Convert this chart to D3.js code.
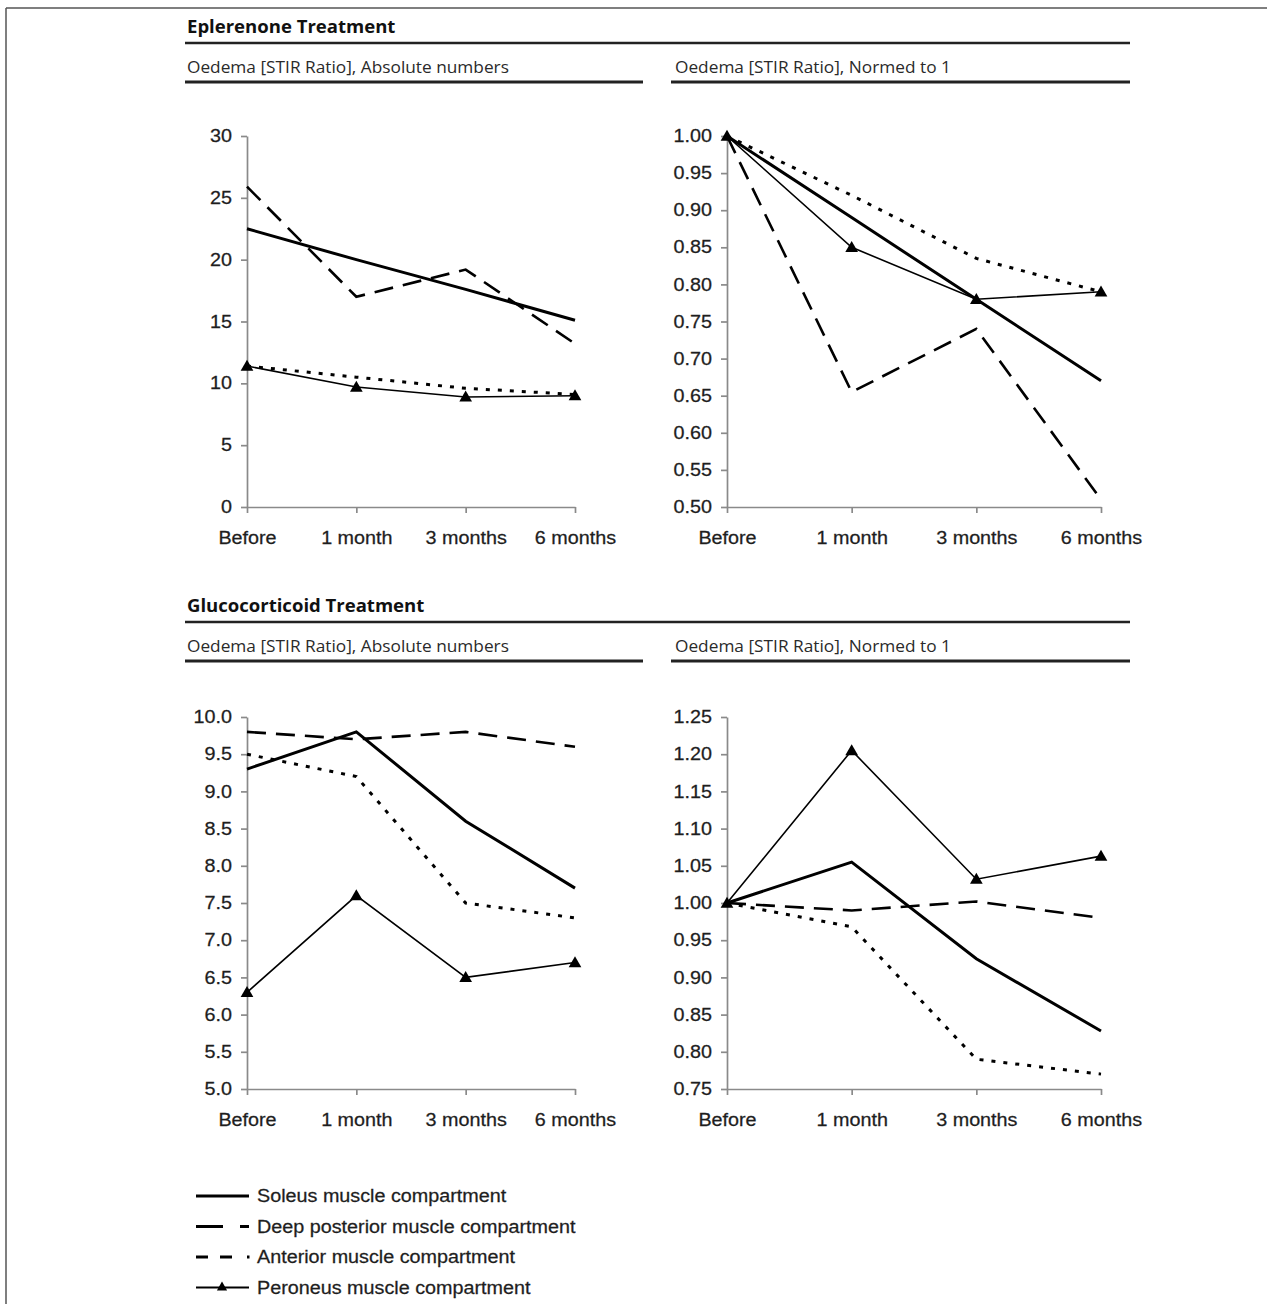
<!DOCTYPE html>
<meta charset="utf-8">
<style>
  body { margin: 0; background: #fff; }
  .axis path, .axis line { stroke: #8a8a8a; stroke-width: 1.7; }
  .axis text { font-family: "Liberation Sans", Arial, sans-serif; font-size: 17.5px; fill: #1e1e1e;
               stroke: #1e1e1e; stroke-width: 0.25;
               transform-box: fill-box; transform-origin: center; transform: scaleX(1.13); }
  .yaxis text { transform-origin: right center; }
  .legend text { font-family: "Liberation Sans", Arial, sans-serif; font-size: 17.5px; fill: #1e1e1e;
                 stroke: #1e1e1e; stroke-width: 0.25;
                 transform-box: fill-box; transform-origin: left center; transform: scaleX(1.13); }
  .title { font-family: "Open Sans", sans-serif; font-weight: 700; font-size: 17.5px; fill: #111;
           transform-box: fill-box; transform-origin: left center; transform: scaleX(1.06); }
  .subtitle { font-family: "Open Sans", sans-serif; font-size: 16px; fill: #2a2a2a;
              transform-box: fill-box; transform-origin: left center; transform: scaleX(1.08); }
</style>
<body>
  <svg width="1267" height="1304"></svg>
</body>
<script src="https://cdnjs.cloudflare.com/ajax/libs/d3/7.8.5/d3.min.js"></script>
<script>

    // time points on the x axis
    var timepoints = ["Before", "1 month", "3 months", "6 months"];

    // series order: soleus, deep posterior, anterior, peroneus
    var seriesNames = [
        "Soleus muscle compartment",
        "Deep posterior muscle compartment",
        "Anterior muscle compartment",
        "Peroneus muscle compartment"
    ];

    var eplerenoneAbsolute = [
        [22.5, 20.0, 17.6, 15.1],
        [25.9, 17.0, 19.2, 13.2],
        [11.4, 10.5, 9.6, 9.1],
        [11.4, 9.7, 8.9, 9.0]
    ];
    var eplerenoneNormed = [
        [1.00, 0.89, 0.78, 0.67],
        [1.00, 0.655, 0.74, 0.51],
        [1.00, 0.92, 0.835, 0.79],
        [1.00, 0.85, 0.78, 0.79]
    ];
    var glucoAbsolute = [
        [9.3, 9.8, 8.6, 7.7],
        [9.8, 9.7, 9.8, 9.6],
        [9.5, 9.2, 7.5, 7.3],
        [6.3, 7.6, 6.5, 6.7]
    ];
    var glucoNormed = [
        [1.00, 1.055, 0.925, 0.828],
        [1.00, 0.99, 1.002, 0.98],
        [1.00, 0.968, 0.79, 0.77],
        [1.00, 1.205, 1.032, 1.063]
    ];

    var absTicksTop = [0, 5, 10, 15, 20, 25, 30];
    var normTicksTop = [0.50, 0.55, 0.60, 0.65, 0.70, 0.75, 0.80, 0.85, 0.90, 0.95, 1.00];
    var absTicksBottom = [5.0, 5.5, 6.0, 6.5, 7.0, 7.5, 8.0, 8.5, 9.0, 9.5, 10.0];
    var normTicksBottom = [0.75, 0.80, 0.85, 0.90, 0.95, 1.00, 1.05, 1.10, 1.15, 1.20, 1.25];

    var svg = d3.select("svg");

    // frame (only top + left edge visible in the scan)
    svg.append("line").attr("x1", 6).attr("y1", 8).attr("x2", 1267).attr("y2", 8)
        .attr("stroke", "#555").attr("stroke-width", 1.5);
    svg.append("line").attr("x1", 6).attr("y1", 8).attr("x2", 6).attr("y2", 1304)
        .attr("stroke", "#555").attr("stroke-width", 1.5);

    // line styles per series
    var styles = [
        { width: 3, dash: null, marker: false },
        { width: 2.6, dash: "19,10", marker: false },
        { width: 3, dash: "4,8", marker: false },
        { width: 1.6, dash: null, marker: true }
    ];

    function header(y0, title) {
        svg.append("text").attr("class", "title").attr("x", 187).attr("y", y0).text(title);
        svg.append("line").attr("x1", 185).attr("x2", 1130).attr("y1", y0 + 10).attr("y2", y0 + 10)
            .attr("stroke", "#222").attr("stroke-width", 2.5);
        svg.append("text").attr("class", "subtitle").attr("x", 187).attr("y", y0 + 40)
            .text("Oedema [STIR Ratio], Absolute numbers");
        svg.append("text").attr("class", "subtitle").attr("x", 675).attr("y", y0 + 40)
            .text("Oedema [STIR Ratio], Normed to 1");
        svg.append("line").attr("x1", 185).attr("x2", 643).attr("y1", y0 + 49).attr("y2", y0 + 49)
            .attr("stroke", "#222").attr("stroke-width", 3);
        svg.append("line").attr("x1", 671).attr("x2", 1130).attr("y1", y0 + 49).attr("y2", y0 + 49)
            .attr("stroke", "#222").attr("stroke-width", 3);
    }

    header(33, "Eplerenone Treatment");
    header(612, "Glucocorticoid Treatment");

    function panel(x0, x1, y0, y1, domain, ticks, fmt, data) {
        var x = d3.scalePoint().domain(timepoints).range([x0, x1]);
        var y = d3.scaleLinear().domain(domain).range([y1, y0]);
        var g = svg.append("g");

        g.append("g").attr("class", "axis yaxis")
            .attr("transform", "translate(" + x0 + ",0)")
            .call(d3.axisLeft(y).tickValues(ticks).tickFormat(d3.format(fmt)).tickSize(6).tickSizeOuter(0).tickPadding(9));

        var xa = g.append("g").attr("class", "axis xaxis")
            .attr("transform", "translate(0," + y1 + ")")
            .call(d3.axisBottom(x).tickSize(6).tickSizeOuter(0).tickPadding(19));
        xa.selectAll("text").attr("dy", "0.71em");

        var line = d3.line()
            .x(function(d, i) { return x(timepoints[i]); })
            .y(function(d) { return y(d); });

        data.forEach(function(values, s) {
            var st = styles[s];
            g.append("path")
                .datum(values)
                .attr("d", line)
                .attr("fill", "none")
                .attr("stroke", "#000")
                .attr("stroke-width", st.width)
                .attr("stroke-dasharray", st.dash);
            if (st.marker) {
                g.selectAll(null)
                    .data(values)
                    .enter()
                    .append("path")
                    .attr("d", d3.symbol().type(d3.symbolTriangle).size(70))
                    .attr("transform", function(d, i) { return "translate(" + x(timepoints[i]) + "," + (y(d) + 1) + ")"; })
                    .attr("fill", "#000");
            }
        });
    }

    panel(247, 575, 136, 507, [0, 30], absTicksTop, "d", eplerenoneAbsolute);
    panel(727, 1101, 136, 507, [0.5, 1.0], normTicksTop, ".2f", eplerenoneNormed);
    panel(247, 575, 717, 1089, [5, 10], absTicksBottom, ".1f", glucoAbsolute);
    panel(727, 1101, 717, 1089, [0.75, 1.25], normTicksBottom, ".2f", glucoNormed);

    // legend
    var legendDash = [null, "27,17", "12,12,12,30", null];
    var legend = svg.append("g").attr("class", "legend");
    seriesNames.forEach(function(name, i) {
        var ly = 1196 + i * 30.5;
        legend.append("line")
            .attr("x1", 196).attr("x2", 249).attr("y1", ly).attr("y2", ly)
            .attr("stroke", "#000")
            .attr("stroke-width", i == 3 ? 1.8 : 3)
            .attr("stroke-dasharray", legendDash[i]);
        if (i == 2) {
            legend.append("rect").attr("x", 247).attr("y", ly - 1.5).attr("width", 2.5).attr("height", 3).attr("fill", "#000");
        }
        if (i == 3) {
            legend.append("path")
                .attr("d", d3.symbol().type(d3.symbolTriangle).size(45))
                .attr("transform", "translate(222," + ly + ")")
                .attr("fill", "#000");
        }
        legend.append("text").attr("x", 257).attr("y", ly).attr("dy", "0.36em").text(name);
    });

</script>
